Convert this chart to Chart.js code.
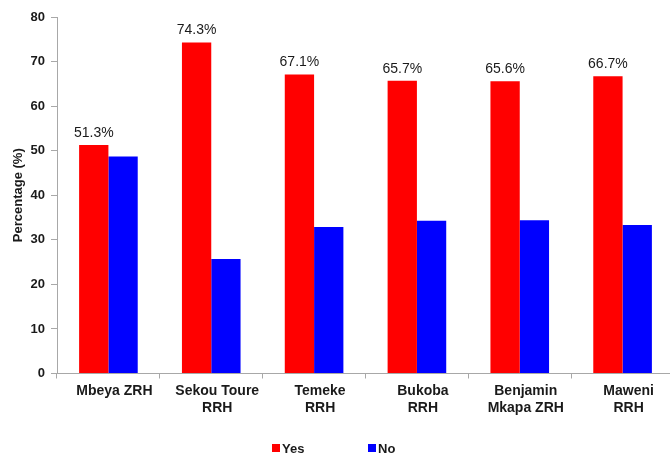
<!DOCTYPE html>
<html>
<head>
<meta charset="utf-8">
<script src="https://cdn.jsdelivr.net/npm/chart.js@4"></script>
<style>
  html, body { margin: 0; padding: 0; background: #fff; overflow: hidden; }
  #wrap { width: 690px; height: 454px; }
</style>
</head>
<body>
<div id="wrap"><canvas id="chart"></canvas></div>
<script>
// --- Data ---
const hospitals = [
    ['Mbeya ZRH'],
    ['Sekou Toure', 'RRH'],
    ['Temeke', 'RRH'],
    ['Bukoba', 'RRH'],
    ['Benjamin', 'Mkapa ZRH'],
    ['Maweni', 'RRH']
];
const yesValues = [51.3, 74.3, 67.1, 65.7, 65.6, 66.7];
const noValues = [48.7, 25.7, 32.9, 34.3, 34.4, 33.3];
const yTicks = [0, 10, 20, 30, 40, 50, 60, 70, 80];

const FONT = '"Liberation Sans", Arial, sans-serif';

// value labels above the "Yes" bars
const valueLabels = {
    id: 'valueLabels',
    afterDatasetsDraw(chart) {
        const ctx = chart.ctx;
        const meta = chart.getDatasetMeta(0);
        ctx.save();
        ctx.font = '14px ' + FONT;
        ctx.fillStyle = '#1a1a1a';
        ctx.textAlign = 'center';
        ctx.textBaseline = 'bottom';
        meta.data.forEach((bar, i) => {
            ctx.fillText(yesValues[i].toFixed(1) + '%', bar.x, bar.y - 5);
        });
        ctx.restore();
    }
};

// legend drawn at the bottom, widely spaced like the original
const bottomLegend = {
    id: 'bottomLegend',
    afterDraw(chart) {
        const ctx = chart.ctx;
        const xs = [272, 368];
        const y = 448;
        ctx.save();
        ctx.font = 'bold 13px ' + FONT;
        ctx.textBaseline = 'middle';
        chart.data.datasets.forEach((ds, i) => {
            ctx.fillStyle = ds.backgroundColor;
            ctx.fillRect(xs[i], y - 4, 8, 8);
            ctx.fillStyle = '#1a1a1a';
            ctx.fillText(ds.label, xs[i] + 10, y + 1);
        });
        ctx.restore();
    }
};

new Chart(document.getElementById('chart'), {
    type: 'bar',
    data: {
        labels: hospitals,
        datasets: [
            { label: 'Yes', data: yesValues, backgroundColor: '#FF0000' },
            { label: 'No', data: noValues, backgroundColor: '#0000FF' }
        ]
    },
    options: {
        responsive: true,
        maintainAspectRatio: false,
        animation: false,
        layout: { padding: { left: 0, right: 16, top: 17, bottom: 0 } },
        datasets: { bar: { categoryPercentage: 0.57, barPercentage: 1.0 } },
        plugins: {
            legend: { display: false },
            tooltip: { enabled: false }
        },
        scales: {
            x: {
                grid: { drawOnChartArea: false, offset: true, tickLength: 5, color: '#a8a8a8' },
                border: { color: '#a8a8a8' },
                ticks: {
                    font: { family: FONT, size: 14, weight: 'bold', lineHeight: 1.2 },
                    color: '#1a1a1a',
                    maxRotation: 0,
                    padding: 4,
                    labelOffset: 6
                },
                afterFit: s => { s.height = 80.5; }
            },
            y: {
                min: 0,
                max: 80,
                afterBuildTicks: s => { s.ticks = yTicks.map(v => ({ value: v })); },
                grid: { drawOnChartArea: false, tickLength: 6, color: '#a8a8a8' },
                border: { color: '#a8a8a8' },
                ticks: {
                    font: { family: FONT, size: 13, weight: 'bold' },
                    color: '#1a1a1a',
                    padding: 6
                },
                title: {
                    display: true,
                    text: 'Percentage (%)',
                    font: { family: FONT, size: 13, weight: 'bold' },
                    color: '#1a1a1a',
                    padding: { top: 11, bottom: 0 }
                },
                afterFit: s => { s.width = 57; }
            }
        }
    },
    plugins: [valueLabels, bottomLegend]
});
</script>
</body>
</html>
